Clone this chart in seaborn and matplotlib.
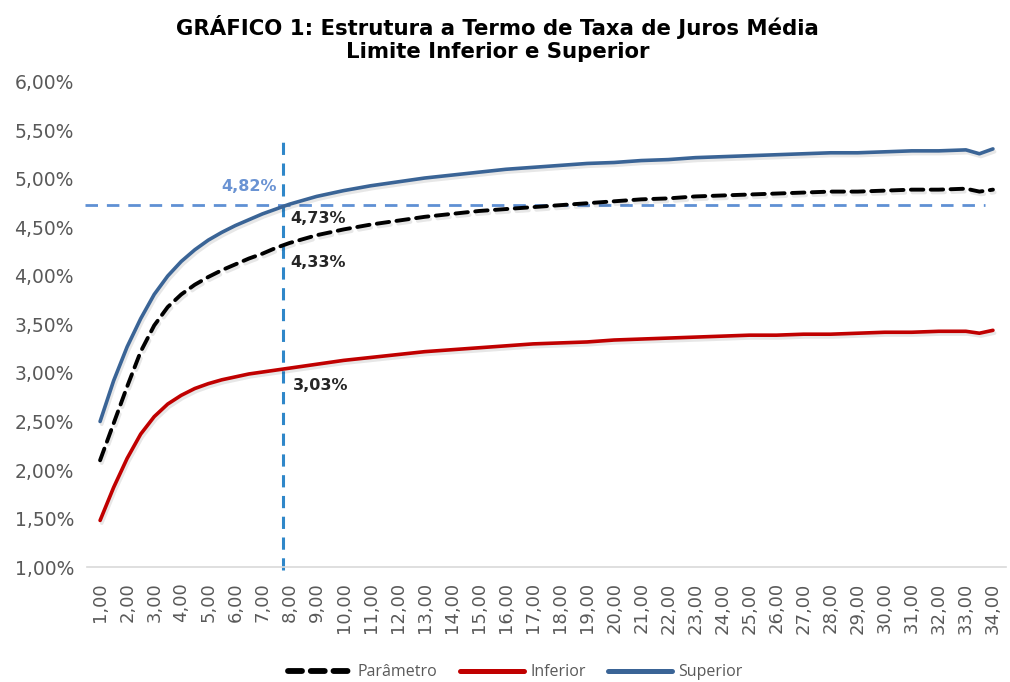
import numpy as np
import pandas as pd
import matplotlib
matplotlib.use("Agg")
import matplotlib.pyplot as plt
import matplotlib.patheffects as pe
from matplotlib.lines import Line2D
import seaborn as sns

# ---------------- data ----------------
prazo = [1, 1.5, 2, 2.5, 3, 3.5, 4, 4.5, 5, 5.5, 6, 6.5, 7, 7.5, 8,
         9, 10, 11, 12, 13, 14, 15, 16, 17, 18, 19, 20, 21, 22, 23, 24,
         25, 26, 27, 28, 29, 30, 31, 32, 33, 33.5, 34]
superior = [2.50, 2.92, 3.27, 3.56, 3.81, 4.00, 4.15, 4.27, 4.37, 4.45, 4.52, 4.58, 4.64, 4.69, 4.74,
            4.82, 4.88, 4.93, 4.97, 5.01, 5.04, 5.07, 5.10, 5.12, 5.14, 5.16, 5.17, 5.19, 5.20, 5.22, 5.23,
            5.24, 5.25, 5.26, 5.27, 5.27, 5.28, 5.29, 5.29, 5.30, 5.26, 5.31]
parametro = [2.10, 2.48, 2.86, 3.22, 3.49, 3.68, 3.81, 3.91, 3.99, 4.06, 4.12, 4.18, 4.23, 4.29, 4.34,
             4.42, 4.48, 4.53, 4.57, 4.61, 4.64, 4.67, 4.69, 4.71, 4.73, 4.75, 4.77, 4.79, 4.80, 4.82, 4.83,
             4.84, 4.85, 4.86, 4.87, 4.87, 4.88, 4.89, 4.89, 4.90, 4.87, 4.89]
inferior = [1.48, 1.82, 2.12, 2.37, 2.55, 2.68, 2.77, 2.84, 2.89, 2.93, 2.96, 2.99, 3.01, 3.03, 3.05,
            3.09, 3.13, 3.16, 3.19, 3.22, 3.24, 3.26, 3.28, 3.30, 3.31, 3.32, 3.34, 3.35, 3.36, 3.37, 3.38,
            3.39, 3.39, 3.40, 3.40, 3.41, 3.42, 3.42, 3.43, 3.43, 3.41, 3.44]

x_ticks = list(range(1, 35))
x_tick_labels = [f"{v:.2f}".replace(".", ",") for v in x_ticks]
y_ticks = [1.0, 1.5, 2.0, 2.5, 3.0, 3.5, 4.0, 4.5, 5.0, 5.5, 6.0]
y_tick_labels = [f"{v:.2f}%".replace(".", ",") for v in y_ticks]

ref_prazo = 7.75
ref_taxa = 4.735
ann_sup = "4,73%"
ann_par = "4,33%"
ann_inf = "3,03%"
ann_ref = "4,82%"

title_l1 = "GRÁFICO 1: Estrutura a Termo de Taxa de Juros Média"
title_l2 = "Limite Inferior e Superior"

# ---------------- style ----------------
sns.set_theme(style="white")
plt.rcParams["font.family"] = ["DejaVu Sans"]

df = pd.DataFrame({"prazo": prazo, "Parâmetro": parametro,
                   "Inferior": inferior, "Superior": superior})

fig = plt.figure(figsize=(10.1, 6.82), dpi=100)
ax = fig.add_axes([0.0857, 0.1686, 0.9108, 0.7112])

shadow = [pe.SimpleLineShadow(offset=(1.2, -2.0), alpha=0.10, rho=0.3), pe.Normal()]

c_par, c_inf, c_sup = "#000000", "#c00000", "#3a6496"

sns.lineplot(data=df, x="prazo", y="Superior", ax=ax, color=c_sup, lw=2.6,
             solid_capstyle="round", solid_joinstyle="round", path_effects=shadow)
sns.lineplot(data=df, x="prazo", y="Inferior", ax=ax, color=c_inf, lw=2.6,
             solid_capstyle="round", solid_joinstyle="round", path_effects=shadow)
sns.lineplot(data=df, x="prazo", y="Parâmetro", ax=ax, color=c_par, lw=2.8,
             path_effects=shadow)
par_line = ax.lines[-1]
par_line.set_dashes((3.2, 1.9))
par_line.set_dash_capstyle("round")

# reference lines
ax.plot([0.45, 33.7], [ref_taxa, ref_taxa], color="#5f90d4", lw=2.0,
        dashes=(4.5, 3.2), zorder=1, clip_on=False)
ax.plot([ref_prazo, ref_prazo], [0.97, 5.39], color="#2f87c9", lw=2.2,
        dashes=(4.0, 2.8), zorder=1, clip_on=False)

# annotations
ax.text(7.55, 4.918, ann_ref, color="#6a93d3", fontsize=11.5,
        fontweight="bold", ha="right", va="center")
ann_kw = dict(color="#262626", fontsize=11.5, fontweight="bold", ha="left", va="center")
ax.text(8.02, 4.588, ann_sup, **ann_kw)
ax.text(8.02, 4.144, ann_par, **ann_kw)
ax.text(8.13, 2.876, ann_inf, **ann_kw)

# axes
ax.set_xlim(0.5, 34.5)
ax.set_ylim(1.0, 6.0)
ax.set_xticks(x_ticks)
ax.set_xticklabels(x_tick_labels, rotation=90, fontsize=13, color="#595959")
ax.set_yticks(y_ticks)
ax.set_yticklabels(y_tick_labels, fontsize=13.5, color="#595959")
ax.tick_params(axis="x", length=0, pad=11)
ax.tick_params(axis="y", length=0, pad=9)
ax.set_xlabel("")
ax.set_ylabel("")
for s in ["top", "right", "left"]:
    ax.spines[s].set_visible(False)
ax.spines["bottom"].set_color("#d9d9d9")
ax.spines["bottom"].set_linewidth(1.2)
ax.grid(False)

fig.text(0.4926, 1 - 27 / 682, title_l1, fontsize=15.3, fontweight="bold",
         color="#000000", ha="center", va="center")
fig.text(0.4926, 1 - 52 / 682, title_l2, fontsize=15.3, fontweight="bold",
         color="#000000", ha="center", va="center")

handles = [Line2D([], [], color=c_par, lw=4.2, dashes=(2.4, 1.5), dash_capstyle="round"),
           Line2D([], [], color=c_inf, lw=3.6, solid_capstyle="round"),
           Line2D([], [], color=c_sup, lw=3.6, solid_capstyle="round")]
fig.legend(handles, ["Parâmetro", "Inferior", "Superior"], loc="center",
           bbox_to_anchor=(0.51, 0.014), ncol=3, frameon=False, handlelength=4.0,
           handletextpad=0.4, columnspacing=1.4,
           prop={"family": "Open Sans", "size": 11.5}, labelcolor="#595959")

fig.savefig("out.png", dpi=100)
